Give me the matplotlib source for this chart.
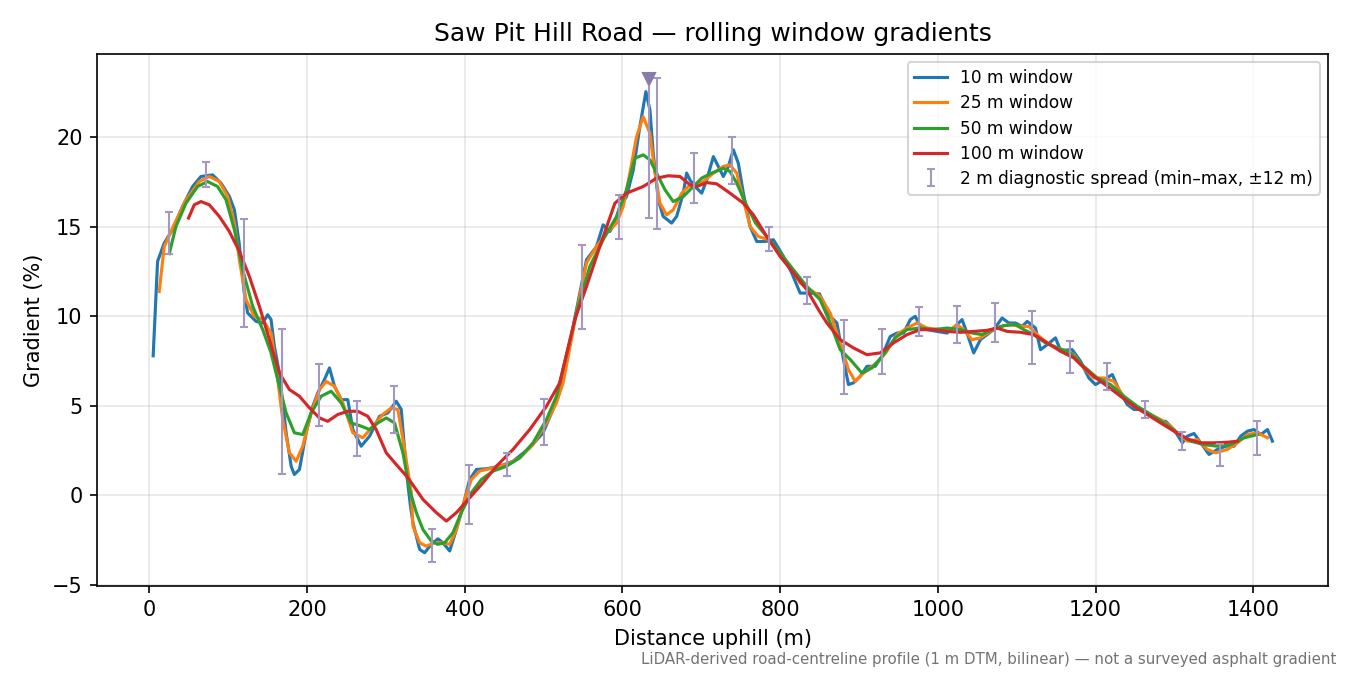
import numpy as np
import matplotlib.pyplot as plt

# distance (m) / gradient (%)
d10 = [5, 10.6, 19, 29.6, 42.3, 55, 65.6, 80.4, 91, 101.6, 108, 114, 120.6, 124.8, 135.5, 143.9,
       150.2, 154.5, 158.7, 165, 173.6, 180, 184, 190.5, 199, 207.4, 213.8, 222.2, 228.6, 234.9,
       243.4, 251.8, 258.2, 268.8, 279.4, 292, 302.6, 313.2, 319.6, 322, 327, 331, 334.4, 342.9,
       349.2, 357.7, 366.1, 372.4, 381, 389.5, 397.9, 406.3, 414.9, 427.6, 444.4, 461.3, 482.5,
       499.4, 512, 524.8, 539.7, 554.5, 567.2, 575.6, 584.1, 590.5, 596.8, 605.3, 613.8, 622.2,
       629.8, 634.9, 639.1, 645.5, 651.8, 662.4, 668.8, 677.2, 681.5, 685.7, 692, 700.6, 706.9,
       715.4, 721.7, 728, 734.4, 740.7, 747, 753.4, 761.9, 770.4, 781, 791.5, 804.2, 814.8, 825.4,
       838.1, 850, 863.5, 872, 880.4, 886.7, 893, 901.6, 910.1, 920.6, 929.1, 939.7, 948.2, 956.6,
       965.1, 971.4, 977.8, 986.3, 999, 1011.7, 1022.2, 1030.7, 1037, 1045.5, 1054, 1062.5,
       1070.9, 1081.5, 1090, 1098.4, 1106.9, 1113.3, 1123.8, 1130.2, 1138.7, 1149.2, 1155.6,
       1170.4, 1181, 1191.5, 1200, 1210.6, 1221.2, 1229.6, 1240.2, 1248.7, 1259.3, 1269.8,
       1280.4, 1288.9, 1299.4, 1310.1, 1316.4, 1324.9, 1333.3, 1343.9, 1354.5, 1365.1, 1375.6,
       1384.1, 1392.6, 1401, 1409.5, 1418, 1424.3]
g10 = [7.8, 13.07, 14.09, 14.84, 16.14, 17.25, 17.81, 17.9, 17.44, 16.7, 15.95, 14.1, 11.3, 10.19,
       9.72, 9.63, 10.09, 9.82, 8.33, 6.84, 3.5, 1.63, 1.17, 1.45, 3.5, 4.98, 5.73, 6.47, 7.12, 6.1,
       5.35, 5.35, 3.68, 2.75, 3.31, 4.42, 4.61, 5.26, 4.8, 3.5, 1.0, -0.5, -1.52, -3.01, -3.2,
       -2.73, -2.42, -2.64, -3.1, -1.9, -0.6, 0.89, 1.45, 1.49, 1.63, 1.91, 2.66, 3.5, 4.8, 6.47,
       9.91, 13.16, 13.9, 15.11, 14.74, 15.21, 16.14, 16.69, 18.18, 20.6, 22.55, 21.53, 19.11,
       16.51, 15.58, 15.21, 15.58, 16.88, 18.0, 17.62, 17.25, 16.88, 17.62, 18.92, 18.37, 17.81,
       18.37, 19.3, 18.55, 16.88, 15.02, 14.18, 14.18, 14.28, 13.35, 12.42, 11.3, 11.3, 11.25,
       10.0, 9.63, 7.59, 6.19, 6.29, 6.65, 7.21, 7.21, 7.77, 8.88, 9.07, 9.07, 9.82, 10.0, 9.44,
       9.26, 9.16, 9.07, 9.44, 9.82, 9.07, 7.96, 8.7, 8.98, 9.26, 9.91, 9.63, 9.63, 9.44, 9.72,
       9.35, 8.14, 8.42, 8.8, 8.1, 8.14, 7.49, 6.56, 6.19, 6.47, 6.75, 5.91, 5.08, 4.8, 4.8, 4.52,
       4.14, 4.14, 3.68, 2.94, 3.31, 3.46, 2.94, 2.29, 2.57, 2.75, 2.75, 3.31, 3.59, 3.68, 3.4,
       3.68, 3.03]

d25 = [12.7, 19, 29.6, 46.6, 63.5, 76.2, 88.9, 99.4, 108, 114.3, 122.8, 133.3, 143.9, 154.5,
       160.9, 169.3, 177.8, 186.3, 194.7, 205.3, 215.9, 224.3, 234.9, 245.5, 258.2, 270.9, 283.6,
       296.3, 306.9, 315.3, 323.8, 332.3, 334.4, 342.9, 351.3, 361.9, 372.4, 381, 389.5, 400,
       408.5, 419, 436, 453, 469.8, 486.7, 503.7, 516.4, 524.8, 541.8, 554.5, 567.2, 579.9, 592.6,
       601.1, 609.5, 618, 626.4, 634.9, 641.3, 647.6, 656.1, 664.5, 675.2, 683.6, 692, 702.6,
       715.4, 728, 736.5, 745, 753.4, 761.9, 772.4, 785.1, 800, 812.7, 825.4, 838.1, 850.8, 863.5,
       876.2, 886.7, 895.2, 903.7, 914.3, 924.8, 935.4, 948.2, 960.9, 973.6, 986.3, 1003.2,
       1015.9, 1024.3, 1032.8, 1043.4, 1054, 1066.7, 1079.4, 1092.1, 1104.8, 1115.3, 1125.9,
       1138.7, 1151.4, 1164.1, 1172.5, 1185.1, 1197.8, 1210.6, 1223.2, 1233.9, 1244.4, 1257.1,
       1269.8, 1282.5, 1295.2, 1305.8, 1316.4, 1329.1, 1341.8, 1352.4, 1367.2, 1379.9, 1392.6,
       1405.3, 1418]
g25 = [11.39, 13.9, 14.93, 16.5, 17.53, 17.81, 17.53, 16.7, 15.21, 13.16, 10.93, 10.0, 9.82, 9.07,
       7.21, 4.24, 2.38, 1.91, 2.75, 4.61, 5.91, 6.37, 6.1, 5.17, 3.5, 3.22, 3.87, 4.52, 4.89, 4.8,
       2.57, 0.15, -1.71, -2.64, -2.83, -2.64, -2.64, -2.73, -1.9, -0.22, 0.89, 1.36, 1.54, 1.73,
       2.1, 2.84, 4.05, 5.17, 6.29, 10.19, 12.98, 13.9, 14.65, 15.21, 16.14, 18.0, 20.04, 21.15,
       20.23, 18.0, 16.32, 15.67, 15.95, 16.88, 17.25, 17.35, 17.53, 18.0, 18.37, 18.46, 18.0,
       16.51, 15.02, 14.46, 14.28, 13.54, 12.79, 11.86, 11.49, 11.12, 10.19, 8.52, 7.03, 6.37,
       6.75, 7.12, 7.49, 8.05, 8.98, 9.35, 9.63, 9.35, 9.26, 9.26, 9.54, 9.26, 8.7, 8.8, 9.16,
       9.44, 9.54, 9.44, 9.44, 8.98, 8.52, 8.24, 8.05, 7.86, 7.12, 6.56, 6.56, 6.37, 5.63, 5.08,
       4.8, 4.52, 4.24, 3.87, 3.4, 3.03, 3.12, 2.57, 2.38, 2.57, 2.94, 3.4, 3.5, 3.22]

d50 = [25.4, 33.9, 46.6, 61.3, 74, 86.7, 97.4, 108, 118.5, 131.2, 143.9, 154.5, 162.9, 173.6,
       184.1, 194.7, 205.3, 218, 230.7, 243.4, 256.1, 268.8, 279.4, 290, 300.6, 311.1, 321.7,
       330.2, 338.7, 347.1, 357.7, 366.1, 374.6, 385.1, 395.7, 408.5, 421.2, 436, 453, 469.8,
       486.7, 503.7, 516.4, 541.8, 558.7, 575.6, 592.6, 605.3, 615.9, 626.4, 634.9, 643.4, 654,
       664.5, 677.2, 690, 700.6, 713.3, 728, 736.5, 745, 756.2, 768.9, 783, 800, 816.9, 833.9,
       850.8, 863.5, 876.2, 888.9, 903.7, 916.5, 931.2, 945.7, 960.9, 977.8, 994.7, 1011.7,
       1028.6, 1043.4, 1056.1, 1068.8, 1083.6, 1098.4, 1109, 1121.7, 1136.5, 1151.4, 1168.3,
       1185.1, 1202.1, 1219, 1235.9, 1252.9, 1269.8, 1286.7, 1303.7, 1320.6, 1337.5, 1354.5,
       1371.4, 1388.3, 1405.3]
g50 = [13.5, 15.02, 16.32, 17.25, 17.53, 17.25, 16.51, 14.84, 12.6, 10.56, 9.26, 7.96, 6.47, 4.61,
       3.5, 3.4, 4.61, 5.54, 5.82, 5.17, 4.05, 3.87, 3.68, 4.05, 4.33, 4.05, 2.38, 0.33, -0.96,
       -1.9, -2.55, -2.73, -2.64, -2.08, -0.96, 0.15, 0.89, 1.36, 1.63, 2.1, 2.94, 4.24, 5.54,
       10.19, 12.79, 14.28, 15.58, 17.07, 18.83, 19.02, 18.74, 18.0, 17.07, 16.41, 16.69, 17.25,
       17.72, 18.0, 18.27, 18.09, 17.44, 16.32, 15.21, 14.46, 13.54, 12.6, 11.67, 10.93, 9.63,
       8.14, 7.59, 6.84, 7.12, 7.86, 8.8, 9.26, 9.35, 9.26, 9.35, 9.26, 9.07, 8.98, 9.26, 9.48,
       9.54, 9.26, 8.98, 8.52, 8.24, 7.96, 7.21, 6.56, 6.19, 5.54, 4.98, 4.52, 4.05, 3.5, 3.03,
       2.84, 2.75, 2.84, 3.22, 3.4]

d100 = [49.9, 57.1, 65.6, 76.2, 88.9, 101.6, 114.3, 127, 139.7, 152.4, 165.1, 177.8, 190.5,
        203.2, 215.9, 226.4, 239.1, 251.8, 264.5, 277.2, 287.8, 300.6, 313.2, 328, 347.1, 364.1,
        376.8, 389.5, 406.3, 423.3, 440.2, 461.3, 482.5, 503.7, 520.6, 539.7, 554.5, 571.4, 590.5,
        605.3, 626.4, 643.4, 658.2, 673, 685.7, 694.2, 706.9, 719.6, 736.5, 753.4, 766.1, 783,
        800, 816.9, 833.9, 848.7, 859.3, 876.2, 893, 910.1, 927, 943.9, 960.9, 977.8, 994.7,
        1011.7, 1028.6, 1045.5, 1062.5, 1075.2, 1087.9, 1104.8, 1121.7, 1138.7, 1155.6, 1172.5,
        1181, 1197.8, 1214.9, 1231.7, 1248.7, 1265.6, 1282.5, 1299.4, 1316.4, 1333.3, 1350.3,
        1367.2, 1379.9]
g100 = [15.49, 16.23, 16.41, 16.23, 15.58, 14.74, 13.63, 12.23, 10.56, 8.7, 6.84, 5.91, 5.54, 4.89,
        4.33, 4.14, 4.52, 4.7, 4.7, 4.42, 3.68, 2.38, 1.73, 0.99, -0.22, -0.96, -1.43, -0.96, -0.13,
        0.71, 1.63, 2.57, 3.68, 4.98, 6.29, 9.82, 11.67, 13.9, 16.32, 16.88, 17.25, 17.72, 17.85,
        17.81, 17.35, 17.25, 17.47, 17.4, 16.88, 16.32, 15.67, 14.46, 13.35, 12.42, 11.49, 10.37,
        9.63, 8.7, 8.24, 7.86, 7.96, 8.52, 8.98, 9.26, 9.26, 9.16, 9.11, 9.16, 9.22, 9.35, 9.16,
        9.11, 8.98, 8.52, 8.05, 7.68, 7.31, 6.65, 6.1, 5.54, 4.98, 4.52, 4.05, 3.59, 3.16, 2.94,
        2.94, 2.97, 3.03]

# 2 m diagnostic spread: min / max within +-12 m of each station
spread_d = [25, 72.6, 120.2, 167.8, 215.3, 262.9, 310.5, 358.1, 405.7, 453.3, 500.9, 548.4, 596,
            643.6, 691.2, 738.8, 786.4, 834, 881.6, 929.1, 976.7, 1024.3, 1071.9, 1119.5, 1167.1,
            1214.7, 1262.2, 1309.8, 1357.4, 1405]
spread_lo = [13.5, 17.2, 9.4, 1.2, 3.9, 2.2, 3.5, -3.7, -1.6, 1.1, 2.8, 9.3, 14.3, 14.9, 16.35,
             17.4, 13.65, 10.7, 5.65, 6.8, 8.9, 8.5, 8.55, 7.35, 6.85, 5.9, 4.3, 2.55, 1.65, 2.25]
spread_hi = [15.8, 18.6, 15.45, 9.3, 7.35, 5.25, 6.1, -1.9, 1.7, 2.35, 5.4, 14.0, 16.75, 23.3, 19.1,
             20.0, 15.0, 12.2, 9.8, 9.3, 10.55, 10.6, 10.75, 10.3, 8.65, 7.4, 5.25, 3.55, 2.85, 4.15]

# steepest point
peak_d = 634
peak_lo = 15.5
peak_hi = 23.25

fig, ax = plt.subplots(figsize=(9, 4.5), dpi=150)
fig.subplots_adjust(left=0.072, right=0.984, top=0.92, bottom=0.132)

ax.plot(d10, g10, color='C0', lw=1.5, label='10 m window')
ax.plot(d25, g25, color='C1', lw=1.5, label='25 m window')
ax.plot(d50, g50, color='C2', lw=1.5, label='50 m window')
ax.plot(d100, g100, color='C3', lw=1.5, label='100 m window')

mid = (np.array(spread_lo) + np.array(spread_hi)) / 2
err = [mid - np.array(spread_lo), np.array(spread_hi) - mid]
ax.errorbar(spread_d, mid, yerr=err, fmt='none', ecolor='#a597c4', elinewidth=1,
            capsize=2, label='2 m diagnostic spread (min–max, ±12 m)')
pmid = (peak_lo + peak_hi) / 2
ax.errorbar([peak_d], [pmid], yerr=[[pmid - peak_lo], [peak_hi - pmid]], fmt='none',
            ecolor='#a597c4', elinewidth=1, capsize=2)
ax.plot([peak_d], [peak_hi], marker='v', color='#8a7bad', ms=6, ls='none')

ax.set_title('Saw Pit Hill Road — rolling window gradients', fontsize=12)
ax.set_xlabel('Distance uphill (m)')
ax.set_ylabel('Gradient (%)')
ax.grid(True, alpha=0.3)
ax.legend(loc='upper right', fontsize=8.15, labelspacing=0.42, handlelength=1.9)

fig.text(0.99, 0.012, 'LiDAR-derived road-centreline profile (1 m DTM, bilinear) — not a surveyed asphalt gradient',
         ha='right', va='bottom', fontsize=7.2, color='0.45')

fig.savefig('out.png', dpi=150)
